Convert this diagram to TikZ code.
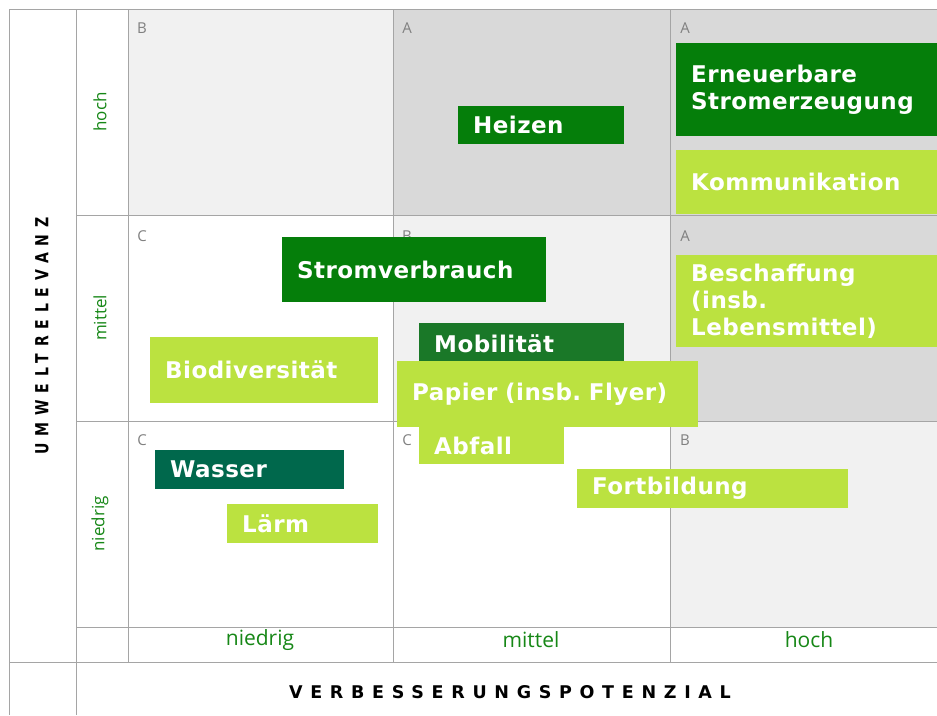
\documentclass[tikz,border=0pt]{standalone}
\usepackage{fontspec}
\setmainfont{DejaVu Sans}
\newfontfamily\feldfont[LetterSpace=2]{DejaVu Sans}
\newfontfamily\achsenfont{Open Sans}
\newfontfamily\titelfont[LetterSpace=44]{DejaVu Sans}
\newfontfamily\titelschmal[LetterSpace=38,FakeStretch=0.78]{DejaVu Sans}

\definecolor{dunkelgruen}{RGB}{5,126,10}
\definecolor{mobilgruen}{RGB}{26,120,40}
\definecolor{wassergruen}{RGB}{0,104,76}
\definecolor{hellgruen}{RGB}{187,226,64}
\definecolor{achsengruen}{RGB}{22,135,22}
\definecolor{stufengrau}{RGB}{128,128,128}
\definecolor{liniengrau}{RGB}{165,165,165}
\definecolor{hellgrau}{RGB}{241,241,241}
\definecolor{mittelgrau}{RGB}{217,217,217}

\frenchspacing

\begin{document}
\begin{tikzpicture}[x=1pt, y=-1pt,
  feld/.style={anchor=north west, inner xsep=15pt, inner ysep=0pt, align=left,
    text=white, font=\feldfont\fontsize{23}{27}\selectfont\bfseries},
  dunkel/.style={feld, fill=dunkelgruen},
  hell/.style={feld, fill=hellgruen},
  stufe/.style={text=stufengrau, font=\achsenfont\fontsize{15}{15}\selectfont},
  achse/.style={text=achsengruen, font=\achsenfont\fontsize{21}{21}\selectfont},
  achsev/.style={text=achsengruen, rotate=90, font=\achsenfont\fontsize{17}{17}\selectfont},
  linie/.style={draw=liniengrau, line width=1pt}]

\useasboundingbox (0,0) rectangle (937,715) ;

% Felder
\fill [hellgrau] (128,9) rectangle (393,215) ;
\fill [mittelgrau] (393,9) rectangle (670,215) ;
\fill [mittelgrau] (670,9) rectangle (937,215) ;
\fill [hellgrau] (393,215) rectangle (670,421) ;
\fill [mittelgrau] (670,215) rectangle (937,421) ;
\fill [hellgrau] (670,421) rectangle (937,627) ;

% Raster
\draw [linie] (9,9) to (937,9) ;
\draw [linie] (76,215) to (937,215) ;
\draw [linie] (76,421) to (937,421) ;
\draw [linie] (76,627) to (937,627) ;
\draw [linie] (9,662) to (937,662) ;
\draw [linie] (9,9) to (9,715) ;
\draw [linie] (76,9) to (76,715) ;
\draw [linie] (128,9) to (128,662) ;
\draw [linie] (393,9) to (393,662) ;
\draw [linie] (670,9) to (670,662) ;

% Stufen
\node [stufe] (b11) at (142,28) {B} ;
\node [stufe] (a12) at (407,28) {A} ;
\node [stufe] (a13) at (685,28) {A} ;
\node [stufe] (c21) at (142,236) {C} ;
\node [stufe] (b22) at (407,236) {B} ;
\node [stufe] (a23) at (685,236) {A} ;
\node [stufe] (c31) at (142,440) {C} ;
\node [stufe] (c32) at (407,440) {C} ;
\node [stufe] (b33) at (685,440) {B} ;

% Achsen
\node [rotate=90, font=\titelschmal\fontsize{18}{18}\selectfont\bfseries] (umwelt) at (42,336) {UMWELTRELEVANZ} ;
\node [font=\titelfont\fontsize{17.5}{17.5}\selectfont\bfseries] (verbesserung) at (510,692) {VERBESSERUNGSPOTENZIAL} ;

\node [achsev] (yhoch) at (100,112) {hoch} ;
\node [achsev] (ymittel) at (100,318) {mittel} ;
\node [achsev] (yniedrig) at (100,524) {niedrig} ;

\node [achse] (xniedrig) at (260,640) {niedrig} ;
\node [achse] (xmittel) at (531,640) {mittel} ;
\node [achse] (xhoch) at (809,640) {hoch} ;

% Themen
\node [dunkel, text width=136pt, minimum height=38pt] (heizen) at (458,106) {Heizen} ;
\node [dunkel, text width=231pt, minimum height=93pt] (erneuerbar) at (676,43) {Erneuerbare\\Stromerzeugung} ;
\node [hell, text width=231pt, minimum height=64pt] (kommunikation) at (676,150) {Kommunikation} ;
\node [dunkel, text width=234pt, minimum height=65pt] (strom) at (282,237) {Stromverbrauch} ;
\node [hell, text width=231pt, minimum height=92pt] (beschaffung) at (676,255) {Beschaffung\\(insb.\\Lebensmittel)} ;
\node [feld, fill=mobilgruen, text width=175pt, minimum height=42pt] (mobil) at (419,323) {Mobilität} ;
\node [hell, text width=271pt, minimum height=66pt] (papier) at (397,361) {Papier (insb. Flyer)} ;
\node [hell, text width=115pt, minimum height=37pt] (abfall) at (419,427) {Abfall} ;
\node [hell, text width=198pt, minimum height=66pt] (bio) at (150,337) {Biodiversität} ;
\node [feld, fill=wassergruen, text width=159pt, minimum height=39pt] (wasser) at (155,450) {Wasser} ;
\node [hell, text width=121pt, minimum height=39pt] (laerm) at (227,504) {Lärm} ;
\node [hell, text width=241pt, minimum height=39pt] (fortbildung) at (577,469) {Fortbildung} ;

\end{tikzpicture}
\end{document}
